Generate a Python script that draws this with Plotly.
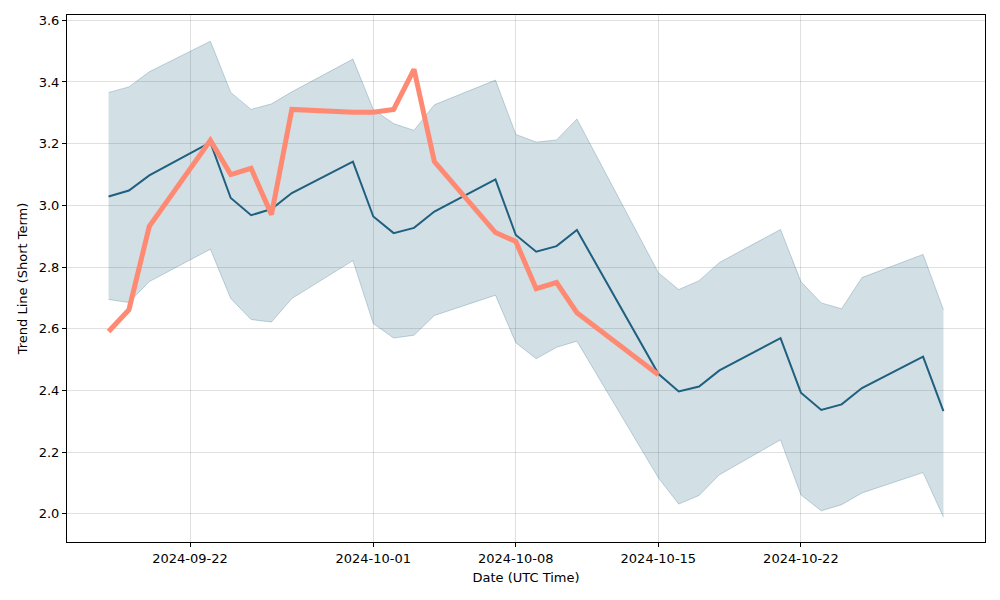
import plotly.graph_objects as go

dates = ["2024-09-18","2024-09-19","2024-09-20","2024-09-23","2024-09-24","2024-09-25",
         "2024-09-26","2024-09-27","2024-09-30","2024-10-01","2024-10-02","2024-10-03",
         "2024-10-04","2024-10-07","2024-10-08","2024-10-09","2024-10-10","2024-10-11",
         "2024-10-15","2024-10-16","2024-10-17","2024-10-18","2024-10-21","2024-10-22",
         "2024-10-23","2024-10-24","2024-10-25","2024-10-28","2024-10-29"]
trend = [3.029,3.048,3.097,3.204,3.024,2.968,2.988,3.040,3.142,2.964,2.910,2.927,
         2.980,3.084,2.904,2.850,2.868,2.920,2.454,2.397,2.413,2.465,2.570,2.393,
         2.337,2.355,2.408,2.510,2.333]
upper = [3.366,3.384,3.433,3.532,3.366,3.311,3.329,3.368,3.474,3.311,3.265,3.243,
         3.326,3.406,3.230,3.205,3.212,3.280,2.782,2.727,2.756,2.815,2.922,2.753,
         2.684,2.665,2.766,2.841,2.662]
lower = [2.695,2.685,2.753,2.858,2.698,2.630,2.622,2.698,2.821,2.617,2.570,2.579,
         2.643,2.709,2.555,2.503,2.540,2.560,2.117,2.032,2.060,2.127,2.240,2.062,
         2.010,2.030,2.068,2.134,1.990]
actual_dates = dates[:19]
actual = [2.591,2.662,2.932,3.211,3.100,3.120,2.970,3.311,3.302,3.302,3.311,3.441,
          3.142,2.912,2.883,2.730,2.750,2.652,2.451]

fig = go.Figure()
fig.add_trace(go.Scatter(x=dates, y=upper, mode="lines",
                         line=dict(color="rgba(31,95,127,0.25)", width=1),
                         showlegend=False, hoverinfo="skip"))
fig.add_trace(go.Scatter(x=dates, y=lower, mode="lines", fill="tonexty",
                         fillcolor="rgba(31,95,127,0.2)",
                         line=dict(color="rgba(31,95,127,0.25)", width=1),
                         showlegend=False, hoverinfo="skip"))
fig.add_trace(go.Scatter(x=dates, y=trend, mode="lines",
                         line=dict(color="#1f5f7f", width=2), showlegend=False))
fig.add_trace(go.Scatter(x=actual_dates, y=actual, mode="lines",
                         line=dict(color="#ff8a73", width=5), showlegend=False))

axis_common = dict(showline=True, linecolor="black", linewidth=1, mirror=True,
                   ticks="outside", ticklen=4, tickcolor="black",
                   showgrid=True, gridcolor="rgba(0,0,0,0.12)", gridwidth=1,
                   zeroline=False, automargin=False,
                   tickfont=dict(size=13, color="black"))

fig.update_layout(
    width=984, height=584,
    margin=dict(l=59, r=7, t=7, b=50),
    plot_bgcolor="white", paper_bgcolor="white",
    font=dict(family="DejaVu Sans", size=13, color="black"),
    xaxis=dict(range=["2024-09-15 23:00", "2024-10-31 01:00"],
               tickvals=["2024-09-22","2024-10-01","2024-10-08","2024-10-15","2024-10-22"],
               ticktext=["2024-09-22","2024-10-01","2024-10-08","2024-10-15","2024-10-22"],
               title=dict(text="Date (UTC Time)", font=dict(size=13), standoff=8),
               **axis_common),
    yaxis=dict(range=[1.909, 3.617], tickvals=[2.0,2.2,2.4,2.6,2.8,3.0,3.2,3.4,3.6],
               tickformat=".1f",
               title=dict(text="Trend Line (Short Term)", font=dict(size=13), standoff=8),
               **axis_common),
)
fig.write_html("out.html")
